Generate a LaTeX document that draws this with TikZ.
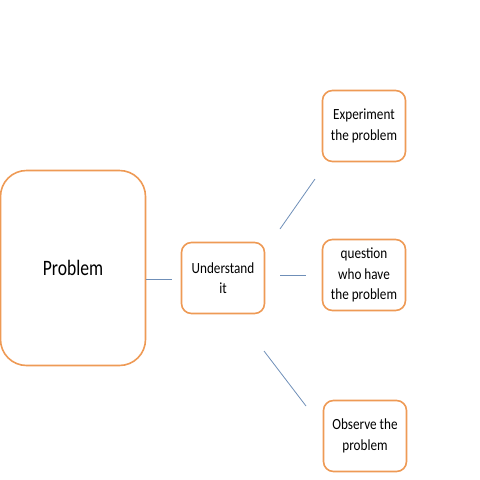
\documentclass[tikz,border=0pt]{standalone}
\usepackage{fontspec}
\setmainfont{Carlito}
\newfontfamily\boxfont[FakeStretch=0.85]{Carlito}
\newfontfamily\bigfont[FakeStretch=0.8]{Carlito}
\usetikzlibrary{positioning}
\definecolor{boxorange}{HTML}{EE9A55}
\definecolor{linkblue}{HTML}{6F8FB8}
\tikzset{
    x=1pt, y=-1pt,
    box/.style={draw=boxorange, line width=1.6pt, rounded corners=10pt,
        minimum width=83pt, minimum height=71pt, align=center,
        inner sep=2pt, font=\boxfont\fontsize{15.5}{20.5}\selectfont},
    bigbox/.style={box, rounded corners=26pt, minimum width=145pt,
        minimum height=195pt, font=\bigfont\fontsize{22}{24}\selectfont},
    link/.style={draw=linkblue, line width=0.8pt},
}

\begin{document}
\begin{tikzpicture}
    \useasboundingbox (0,0) rectangle (480,480);

    \node [bigbox] (problem) at (73,268) {Problem};

    \node [box] (understand) at (223,278) {Understand\\it};

    \node [box] (experiment) at (364,126) {Experiment\\the problem};

    \node [box] (question) at (364,275) {question\\who have\\the problem};

    \node [box] (observe) at (365,436) {Observe the\\problem};

    % loose ends of the links
    \coordinate (p1) at (146,279);
    \coordinate (u1) at (172,279);
    \coordinate (e1) at (280,229);
    \coordinate (e2) at (315,179);
    \coordinate (q1) at (280,275);
    \coordinate (q2) at (306,275);
    \coordinate (o1) at (264,351);
    \coordinate (o2) at (306,406);

    \draw [link] (p1) -- (u1);
    \draw [link] (e1) -- (e2);
    \draw [link] (q1) -- (q2);
    \draw [link] (o1) -- (o2);

\end{tikzpicture}
\end{document}
